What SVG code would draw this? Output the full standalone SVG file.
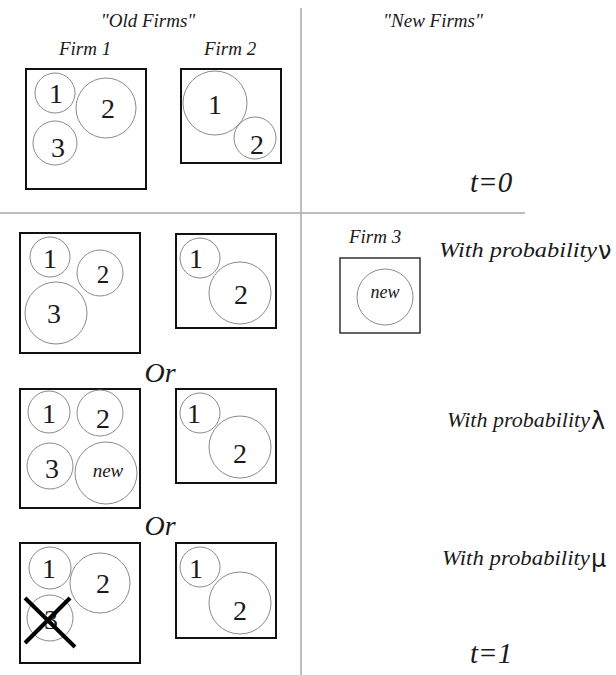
<svg xmlns="http://www.w3.org/2000/svg" width="616" height="675" viewBox="0 0 616 675">
  <!-- dividers between old/new firms and t=0 / t=1 -->
  <g id="dividers" stroke="#a8a8a8" stroke-width="1.5">
    <line x1="301" y1="8" x2="301" y2="675"/>
    <line x1="0" y1="213" x2="525" y2="213"/>
  </g>

  <!-- column and firm headings -->
  <g id="headings" fill="#1a1a1a">
    <text font-family="Liberation Serif" font-style="italic" font-size="19" text-anchor="middle" x="148" y="27">"Old Firms"</text>
    <text font-family="Liberation Serif" font-style="italic" font-size="19" text-anchor="middle" x="433" y="27">"New Firms"</text>
    <text font-family="Liberation Serif" font-style="italic" font-size="19" text-anchor="middle" x="85" y="55">Firm 1</text>
    <text font-family="Liberation Serif" font-style="italic" font-size="19" text-anchor="middle" x="230" y="55">Firm 2</text>
    <text font-family="Liberation Serif" font-style="italic" font-size="19" text-anchor="middle" x="375" y="243">Firm 3</text>
    <text font-family="Liberation Serif" font-style="italic" font-size="29" x="470" y="192">t=0</text>
    <text font-family="Liberation Serif" font-style="italic" font-size="29" x="470" y="663">t=1</text>
  </g>

  <!-- t=0: firm 1 -->
  <g id="firm1-t0">
    <rect x="26" y="69" width="120" height="120" fill="none" stroke="#111" stroke-width="2"/>
    <g fill="none" stroke="#8a8a8a">
      <circle cx="55" cy="93" r="20"/>
      <circle cx="106" cy="108" r="30"/>
      <circle cx="55" cy="143" r="22"/>
    </g>
    <text font-family="Liberation Serif" font-size="28" fill="#1a1a1a" text-anchor="middle" x="56" y="103">1</text>
    <text font-family="Liberation Serif" font-size="28" fill="#1a1a1a" text-anchor="middle" x="108" y="118">2</text>
    <text font-family="Liberation Serif" font-size="28" fill="#1a1a1a" text-anchor="middle" x="58" y="157">3</text>
  </g>

  <!-- t=0: firm 2 -->
  <g id="firm2-t0">
    <rect x="181" y="69" width="100" height="94" fill="none" stroke="#111" stroke-width="2"/>
    <g fill="none" stroke="#8a8a8a">
      <circle cx="215" cy="103" r="32"/>
      <circle cx="255" cy="138" r="21"/>
    </g>
    <text font-family="Liberation Serif" font-size="28" fill="#1a1a1a" text-anchor="middle" x="215" y="114">1</text>
    <text font-family="Liberation Serif" font-size="28" fill="#1a1a1a" text-anchor="middle" x="257" y="154">2</text>
  </g>

  <!-- t=1, case nu: firm 1 -->
  <g id="firm1-nu">
    <rect x="20" y="233" width="120" height="120" fill="none" stroke="#111" stroke-width="2"/>
    <g fill="none" stroke="#8a8a8a">
      <circle cx="50" cy="257" r="20"/>
      <circle cx="100" cy="273" r="23"/>
      <circle cx="56" cy="313" r="31"/>
    </g>
    <text font-family="Liberation Serif" font-size="28" fill="#1a1a1a" text-anchor="middle" x="50" y="268">1</text>
    <text font-family="Liberation Serif" font-size="25" fill="#1a1a1a" text-anchor="middle" x="103" y="283">2</text>
    <text font-family="Liberation Serif" font-size="28" fill="#1a1a1a" text-anchor="middle" x="54" y="323">3</text>
  </g>

  <!-- t=1, case nu: firm 2 -->
  <g id="firm2-nu">
    <rect x="176" y="234" width="100" height="94" fill="none" stroke="#111" stroke-width="2"/>
    <g fill="none" stroke="#8a8a8a">
      <circle cx="200" cy="258" r="20"/>
      <circle cx="240" cy="293" r="31"/>
    </g>
    <text font-family="Liberation Serif" font-size="28" fill="#1a1a1a" text-anchor="middle" x="196" y="268">1</text>
    <text font-family="Liberation Serif" font-size="28" fill="#1a1a1a" text-anchor="middle" x="241" y="304">2</text>
  </g>

  <!-- t=1, case nu: entrant firm 3 -->
  <g id="firm3-nu">
    <rect x="340" y="258" width="80" height="75" fill="none" stroke="#333" stroke-width="1.5"/>
    <circle cx="385" cy="297" r="28" fill="none" stroke="#8a8a8a"/>
    <text font-family="Liberation Serif" font-style="italic" font-size="18" fill="#1a1a1a" text-anchor="middle" x="385" y="298">new</text>
  </g>

  <g id="label-nu" fill="#1a1a1a">
    <text font-family="Liberation Serif" font-style="italic" font-size="21" x="439" y="257" textLength="158" lengthAdjust="spacingAndGlyphs">With probability</text>
    <text font-family="DejaVu Sans" font-size="24" x="598" y="259">ν</text>
  </g>

  <text font-family="Liberation Serif" font-style="italic" font-size="28" text-anchor="middle" fill="#1a1a1a" x="160" y="382">Or</text>

  <!-- t=1, case lambda: firm 1 -->
  <g id="firm1-lambda">
    <rect x="20" y="389" width="120" height="119" fill="none" stroke="#111" stroke-width="2"/>
    <g fill="none" stroke="#8a8a8a">
      <circle cx="49" cy="412" r="21"/>
      <circle cx="100" cy="413" r="23"/>
      <circle cx="50" cy="466" r="23"/>
      <circle cx="106" cy="473" r="31"/>
    </g>
    <text font-family="Liberation Serif" font-size="28" fill="#1a1a1a" text-anchor="middle" x="49" y="423">1</text>
    <text font-family="Liberation Serif" font-size="28" fill="#1a1a1a" text-anchor="middle" x="103" y="428">2</text>
    <text font-family="Liberation Serif" font-size="28" fill="#1a1a1a" text-anchor="middle" x="52" y="478">3</text>
    <text font-family="Liberation Serif" font-style="italic" font-size="19" fill="#1a1a1a" text-anchor="middle" x="108" y="477">new</text>
  </g>

  <!-- t=1, case lambda: firm 2 -->
  <g id="firm2-lambda">
    <rect x="176" y="389" width="100" height="94" fill="none" stroke="#111" stroke-width="2"/>
    <g fill="none" stroke="#8a8a8a">
      <circle cx="200" cy="413" r="20"/>
      <circle cx="240" cy="447" r="31"/>
    </g>
    <text font-family="Liberation Serif" font-size="28" fill="#1a1a1a" text-anchor="middle" x="194" y="423">1</text>
    <text font-family="Liberation Serif" font-size="28" fill="#1a1a1a" text-anchor="middle" x="240" y="463">2</text>
  </g>

  <g id="label-lambda" fill="#1a1a1a">
    <text font-family="Liberation Serif" font-style="italic" font-size="21" x="447" y="427" textLength="143" lengthAdjust="spacingAndGlyphs">With probability</text>
    <text font-family="DejaVu Sans" font-size="24" x="591" y="429">λ</text>
  </g>

  <text font-family="Liberation Serif" font-style="italic" font-size="28" text-anchor="middle" fill="#1a1a1a" x="160" y="535">Or</text>

  <!-- t=1, case mu: firm 1 loses unit 3 -->
  <g id="firm1-mu">
    <rect x="20" y="543" width="120" height="120" fill="none" stroke="#111" stroke-width="2"/>
    <g fill="none" stroke="#8a8a8a">
      <circle cx="50" cy="568" r="21"/>
      <circle cx="100" cy="583" r="30"/>
      <circle cx="50" cy="618" r="23"/>
    </g>
    <text font-family="Liberation Serif" font-size="28" fill="#1a1a1a" text-anchor="middle" x="49" y="578">1</text>
    <text font-family="Liberation Serif" font-size="28" fill="#1a1a1a" text-anchor="middle" x="103" y="593">2</text>
    <text font-family="Liberation Serif" font-size="28" fill="#1a1a1a" text-anchor="middle" x="51" y="629">3</text>
    <g stroke="#000" stroke-width="4">
      <line x1="25" y1="598" x2="75" y2="647"/>
      <line x1="25" y1="643" x2="70" y2="598"/>
    </g>
  </g>

  <!-- t=1, case mu: firm 2 -->
  <g id="firm2-mu">
    <rect x="176" y="543" width="100" height="95" fill="none" stroke="#111" stroke-width="2"/>
    <g fill="none" stroke="#8a8a8a">
      <circle cx="200" cy="567" r="20"/>
      <circle cx="240" cy="603" r="31"/>
    </g>
    <text font-family="Liberation Serif" font-size="28" fill="#1a1a1a" text-anchor="middle" x="196" y="578">1</text>
    <text font-family="Liberation Serif" font-size="28" fill="#1a1a1a" text-anchor="middle" x="240" y="620">2</text>
  </g>

  <g id="label-mu" fill="#1a1a1a">
    <text font-family="Liberation Serif" font-style="italic" font-size="21" x="442" y="565" textLength="148" lengthAdjust="spacingAndGlyphs">With probability</text>
    <text font-family="DejaVu Sans" font-size="24" x="591" y="567">μ</text>
  </g>
</svg>
